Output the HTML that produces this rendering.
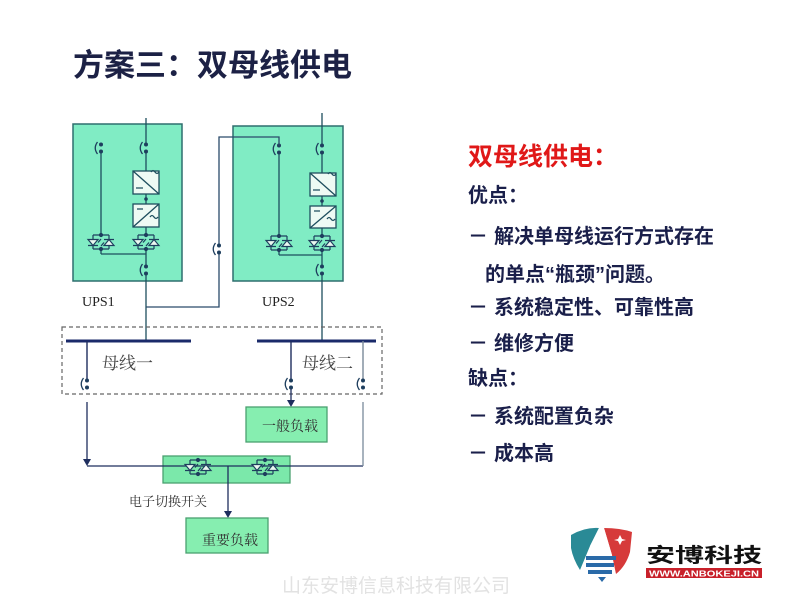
<!DOCTYPE html>
<html><head><meta charset="utf-8"><style>
html,body{margin:0;padding:0;background:#fff;}
svg{display:block}
.cjk{font-family:"Liberation Sans","Noto Sans CJK SC",sans-serif;}
.song{font-family:"Liberation Serif","Noto Serif CJK SC",serif;}
</style></head><body>
<svg width="800" height="600" viewBox="0 0 800 600" xmlns="http://www.w3.org/2000/svg">
<defs>
<g id="sw">
 <circle cx="0" cy="-3.5" r="2" fill="#1e3e5e"/>
 <circle cx="0" cy="3.5" r="2" fill="#1e3e5e"/>
 <path d="M-3.5,-6 Q-8,0 -3.5,6" fill="none" stroke="#1e3e5e" stroke-width="1.3"/>
</g>
<g id="thy" fill="none" stroke="#1e3e5e" stroke-width="1.2">
 <path d="M-8,-7H8M-8,7H8M-8,-7V7M8,-7V7"/>
 <path d="M-13,-2.5H-3L-8,3.5Z M-13,3.5H-3" fill="#eaf8f0"/>
 <path d="M3,3.5H13L8,-2.5Z M3,-2.5H13" fill="#eaf8f0"/>
 <path d="M-3,0.5 L0,-3 M3,0.5 L0,4"/>
 <circle cx="0" cy="-7" r="1.5" fill="#1e3e5e"/>
 <circle cx="0" cy="7" r="1.5" fill="#1e3e5e"/>
</g>
</defs>
<rect width="800" height="600" fill="#fff"/>

<!-- Title -->
<text x="73" y="76" class="cjk" font-size="31" font-weight="bold" fill="#1c2145">方案三：双母线供电</text>

<!-- UPS1 -->
<rect x="73" y="124" width="109" height="157" fill="#80ecc4" stroke="#2e6e6e" stroke-width="1.5"/>
<g fill="none" stroke="#1e4e5e" stroke-width="1.3">
 <path d="M146,118 V144.5 M146,151.5 V171 M146,194 V204 M146,227 V235 M146,249 V254 M101,151.5 V235 M101,249 V254 M101,254 H146 M146,254 V266.5 M146,273.5 V341"/>
 <rect x="133" y="171" width="26" height="23" fill="#eefaf4"/>
 <rect x="133" y="204" width="26" height="23" fill="#eefaf4"/>
 <path d="M133,171 L159,194 M136,188 H143 M151,172 q2,-3 4,0 q2,3 4,0"/>
 <path d="M133,227 L159,204 M137,209 H143 M150,217 q2,-3 4,0 q2,3 4,0"/>
</g>
<circle cx="146" cy="199" r="1.8" fill="#1e3e5e"/>
<use href="#sw" x="146" y="148"/>
<use href="#sw" x="101" y="148"/>
<use href="#sw" x="146" y="270"/>
<use href="#thy" x="101" y="242"/>
<use href="#thy" x="146" y="242"/>

<!-- UPS2 -->
<rect x="233" y="126" width="110" height="155" fill="#80ecc4" stroke="#2e6e6e" stroke-width="1.5"/>
<g fill="none" stroke="#1e4e5e" stroke-width="1.3">
 <path d="M322,113 V145.5 M322,152.5 V173 M322,196 V206 M322,228 V236 M322,250 V255 M279,152.5 V236 M279,250 V255 M279,255 H322 M322,255 V266.5 M322,273.5 V341"/>
 <rect x="310" y="173" width="26" height="23" fill="#eefaf4"/>
 <rect x="310" y="206" width="26" height="22" fill="#eefaf4"/>
 <path d="M310,173 L336,196 M313,190 H320 M328,174 q2,-3 4,0 q2,3 4,0"/>
 <path d="M310,228 L336,206 M314,211 H320 M327,219 q2,-3 4,0 q2,3 4,0"/>
</g>
<circle cx="322" cy="201" r="1.8" fill="#1e3e5e"/>
<use href="#sw" x="322" y="149"/>
<use href="#sw" x="279" y="149"/>
<use href="#sw" x="322" y="270"/>
<use href="#thy" x="279" y="243"/>
<use href="#thy" x="322" y="243"/>

<!-- cross connection -->
<path d="M146,307 H219 V252.5 M219,245.5 V137 H279 V145.5" fill="none" stroke="#2a4a6a" stroke-width="1.3"/>
<use href="#sw" x="219" y="249"/>

<text x="82" y="306" font-family="Liberation Serif, serif" font-size="14" fill="#222">UPS1</text>
<text x="262" y="306" font-family="Liberation Serif, serif" font-size="14" fill="#222">UPS2</text>

<!-- Bus area -->
<rect x="62" y="327" width="320" height="67" fill="none" stroke="#666" stroke-width="1.2" stroke-dasharray="4,3"/>
<path d="M66,341 H191 M257,341 H376" stroke="#1a2a6a" stroke-width="3"/>
<path d="M87,341 V380.5 M291,341 V380.5" stroke="#1e2e5e" stroke-width="1.4"/>
<path d="M363,341 V380.5" stroke="#7a8a9a" stroke-width="1.4"/>
<use href="#sw" x="87" y="384"/>
<use href="#sw" x="291" y="384"/>
<use href="#sw" x="363" y="384"/>
<text x="102" y="369" class="song" font-size="17" fill="#444">母线一</text>
<text x="302" y="369" class="song" font-size="17" fill="#444">母线二</text>

<!-- Loads -->
<path d="M291,389 V401" stroke="#1e2e5e" stroke-width="1.3"/>
<path d="M287,400 L295,400 L291,407 Z" fill="#1e2e5e"/>
<rect x="246" y="407" width="81" height="35" fill="#86eeb0" stroke="#4aa070" stroke-width="1.3"/>
<text x="290" y="431" class="song" font-size="14" fill="#333" text-anchor="middle">一般负载</text>

<rect x="163" y="456" width="127" height="27" fill="#7be8aa" stroke="#4aa070" stroke-width="1.3"/>
<path d="M87,402 V460" stroke="#1e2e5e" stroke-width="1.3"/>
<path d="M83,459 L91,459 L87,466 Z" fill="#1e2e5e"/>
<path d="M87,466 H363" stroke="#1e2e5e" stroke-width="1.3"/>
<path d="M363,402 V466" stroke="#7a8a9a" stroke-width="1.3"/>
<use href="#thy" x="198" y="467"/>
<use href="#thy" x="265" y="467"/>
<path d="M228,466 V512" stroke="#1e2e5e" stroke-width="1.3"/>
<path d="M224,511 L232,511 L228,518 Z" fill="#1e2e5e"/>
<text x="129" y="506" class="song" font-size="13" fill="#333">电子切换开关</text>
<rect x="186" y="518" width="82" height="35" fill="#86eeb0" stroke="#4aa070" stroke-width="1.3"/>
<text x="230" y="545" class="song" font-size="14" fill="#333" text-anchor="middle">重要负载</text>

<!-- Right text -->
<text x="468" y="165" class="cjk" font-size="25" font-weight="bold" fill="#e01818">双母线供电：</text>
<g class="cjk" font-size="20" font-weight="bold" fill="#1a1f4a">
 <text x="468" y="202">优点：</text>
 <text x="468" y="243">－</text><text x="494" y="243">解决单母线运行方式存在</text>
 <text x="485" y="281">的单点“瓶颈”问题。</text>
 <text x="468" y="314">－</text><text x="494" y="314">系统稳定性、可靠性高</text>
 <text x="468" y="350">－</text><text x="494" y="350">维修方便</text>
 <text x="468" y="385">缺点：</text>
 <text x="468" y="423">－</text><text x="494" y="423">系统配置负杂</text>
 <text x="468" y="460">－</text><text x="494" y="460">成本高</text>
</g>

<!-- Logo -->
<path d="M571,535 Q585,527 599,528 L590,546 L580,570 Q573,559 571,548 Z" fill="#2a8a96"/>
<path d="M604,528 Q620,528 632,532 L630,552 Q626,566 616,574 L612,555 Z" fill="#d63a3a"/>
<path d="M599,528 L604,528 L612,555 L590,546 Z" fill="#fff"/>
<rect x="586" y="556" width="30" height="4" fill="#2a6aa8"/>
<rect x="586" y="563" width="28" height="4" fill="#2a6aa8"/>
<rect x="588" y="570" width="24" height="4" fill="#2a6aa8"/>
<path d="M598,577 L606,577 L602,582 Z" fill="#2a6aa8"/>
<path d="M620,535 L622,539 L626,540 L622,541 L620,545 L618,541 L614,540 L618,539 Z" fill="#fff"/>
<text x="646" y="562" class="cjk" font-size="20" font-weight="bold" fill="#111" textLength="116" lengthAdjust="spacingAndGlyphs">安博科技</text>
<rect x="646" y="568" width="116" height="10" fill="#c8202a"/>
<text x="704" y="576.5" font-family="Liberation Sans, sans-serif" font-size="8.5" font-weight="bold" fill="#fff" text-anchor="middle" textLength="110" lengthAdjust="spacingAndGlyphs">WWW.ANBOKEJI.CN</text>

<!-- Footer -->
<text x="282" y="592" class="cjk" font-size="19" fill="#e2e2e2">山东安博信息科技有限公司</text>
</svg>
</body></html>
